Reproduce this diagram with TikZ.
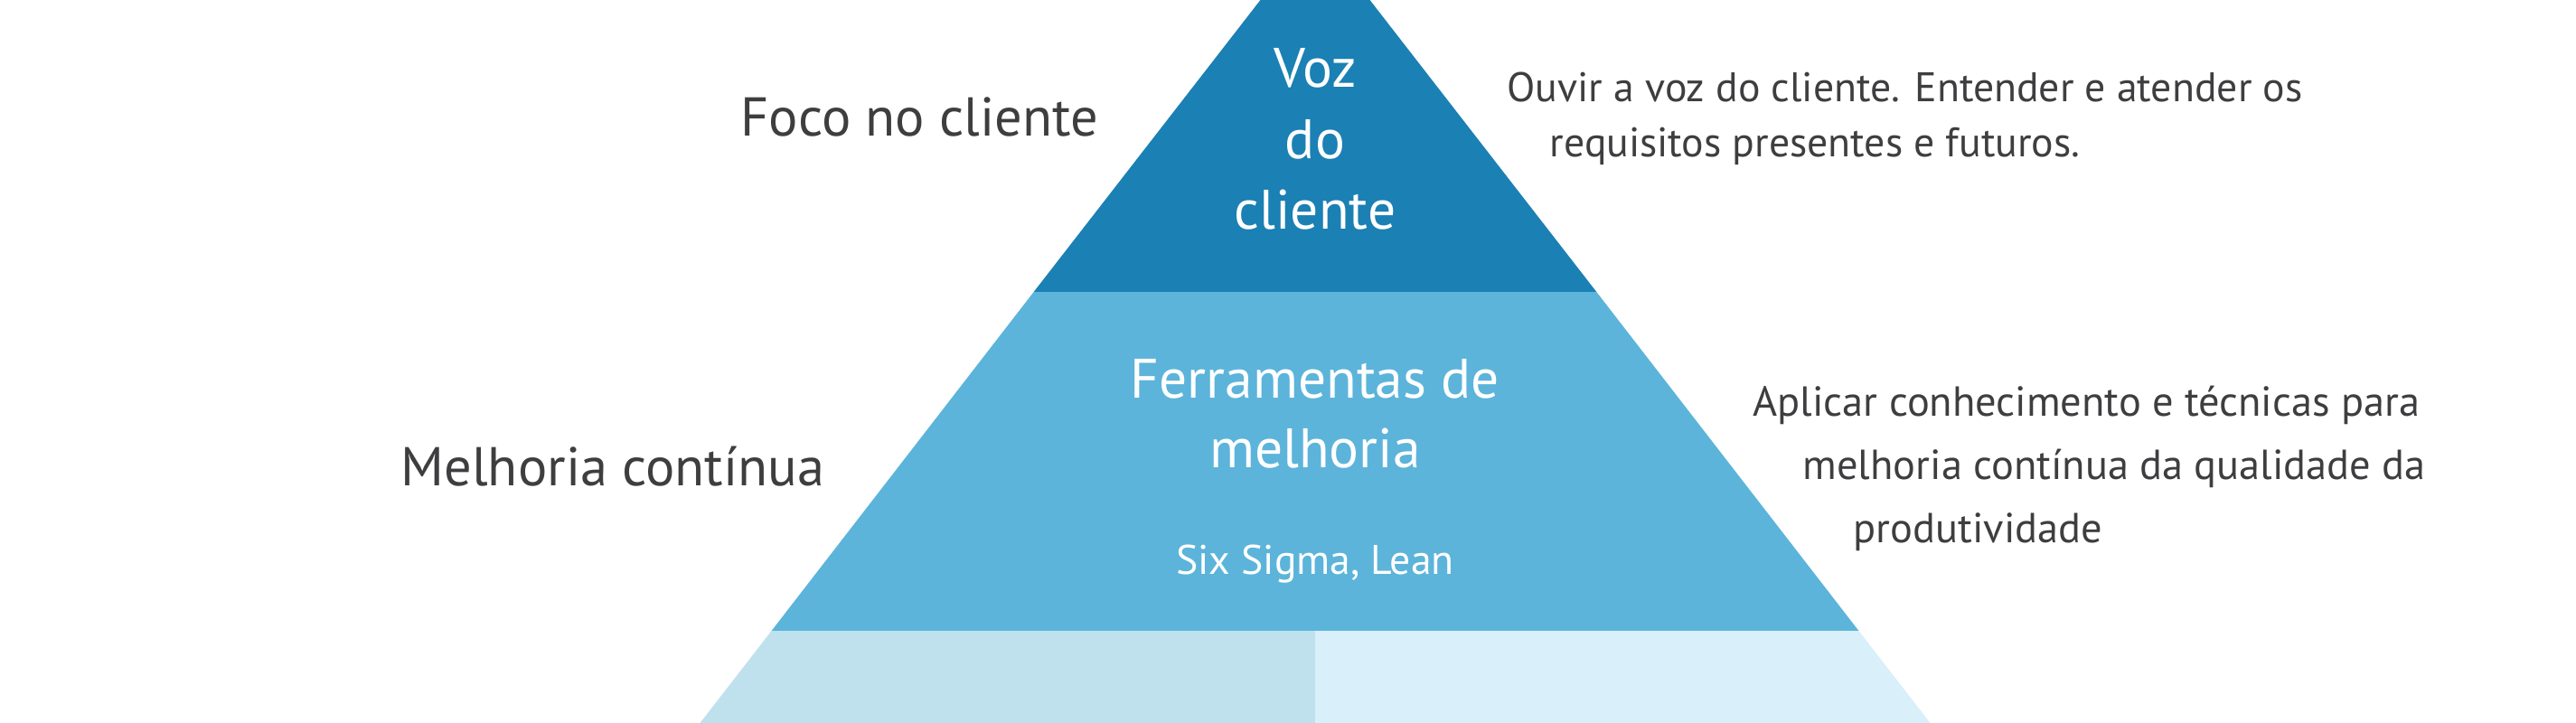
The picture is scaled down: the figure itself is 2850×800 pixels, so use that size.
\documentclass[tikz,border=0pt]{standalone}
\usepackage{fontspec}
\setmainfont{PT Sans}
\definecolor{bandtop}{HTML}{1B80B3}
\definecolor{bandmid}{HTML}{5CB4DA}
\definecolor{bandlowl}{HTML}{BFE1EE}
\definecolor{bandlowr}{HTML}{D9EFF9}
\definecolor{txtgray}{HTML}{3E3E40}
\begin{document}
\begin{tikzpicture}[x=0.01cm,y=-0.01cm,
  bigw/.style={inner sep=0pt,anchor=base,text=white,font=\fontsize{17.5pt}{20pt}\selectfont},
  smallw/.style={inner sep=0pt,anchor=base,text=white,font=\fontsize{13pt}{15pt}\selectfont},
  leftlab/.style={inner sep=0pt,anchor=base west,text=txtgray,font=\fontsize{17.2pt}{20pt}\selectfont},
  desc/.style={inner sep=0pt,anchor=base west,text=txtgray,font=\fontsize{13.2pt}{15pt}\selectfont},
  descb/.style={desc,font=\fontsize{13pt}{15pt}\selectfont}]
\useasboundingbox (0,0) rectangle (2850,800);
\clip (0,0) rectangle (2850,800);
\fill[white] (0,0) rectangle (2850,800);
% pyramid bands
\fill[bandtop] (1455,-78) -- (1766.3,323) -- (1143.7,323) -- cycle;
\fill[bandmid] (1143.7,323) -- (1766.3,323) -- (2056.4,698) -- (853.6,698) -- cycle;
\fill[bandlowl] (853.6,698) -- (1455,698) -- (1455,800) -- (774.5,800) -- cycle;
\fill[bandlowr] (1455,698) -- (2056.4,698) -- (2135.5,800) -- (1455,800) -- cycle;
% texts inside pyramid
\node[bigw] (voz) at (1455,97) {Voz};
\node[bigw] (do) at (1455,175) {do};
\node[bigw] (cli) at (1455,253) {cliente};
\node[bigw] (ferr) at (1455,440) {Ferramentas de};
\node[bigw] (melh) at (1455,517) {melhoria};
\node[smallw] (six) at (1455,635) {Six Sigma, Lean};
% left labels
\node[leftlab] (foco) at (819,150) {Foco no cliente};
\node[leftlab] (melcont) at (443,537) {Melhoria contínua};
% right descriptions
\node[descb] (d1a) at (1667,113) {Ouvir a voz do cliente. Entender e atender os};
\node[descb] (d1b) at (1714,173) {requisitos presentes e futuros.};
\node[desc] (d2a) at (1939,460) {Aplicar conhecimento e técnicas para};
\node[desc] (d2b) at (1994,530) {melhoria contínua da qualidade da};
\node[desc] (d2c) at (2050,600) {produtividade};
\end{tikzpicture}
\end{document}
